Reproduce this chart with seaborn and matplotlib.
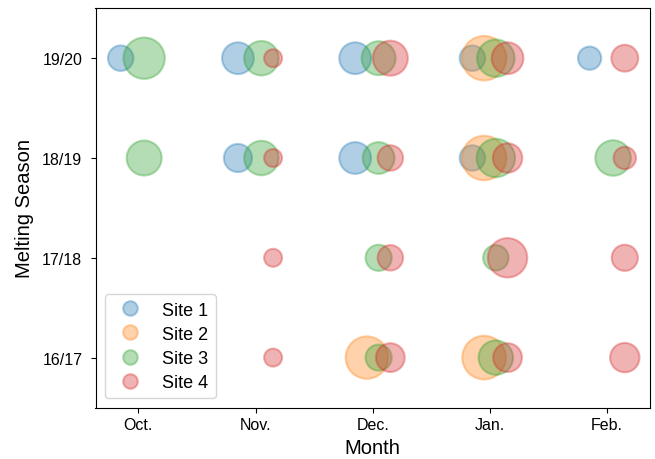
import numpy as np
import pandas as pd
import matplotlib
matplotlib.use("Agg")
import matplotlib.pyplot as plt
from matplotlib.lines import Line2D
import seaborn as sns

# Categories
months = ["Oct.", "Nov.", "Dec.", "Jan.", "Feb."]
seasons = ["16/17", "17/18", "18/19", "19/20"]
sites = ["Site 1", "Site 2", "Site 3", "Site 4"]

nan = np.nan
# Bubble magnitude per site: rows = seasons (16/17 .. 19/20), cols = months (Oct .. Feb)
site1 = [
    [nan, nan, nan, nan, nan],
    [nan, nan, nan, nan, nan],
    [nan, 2.2, 2.8, 1.8, nan],
    [1.8, 2.8, 2.8, 1.8, 1.5],
]
site2 = [
    [nan, nan, 5.0, 5.3, nan],
    [nan, nan, nan, nan, nan],
    [nan, nan, nan, 5.5, nan],
    [nan, nan, nan, 5.5, nan],
]
site3 = [
    [nan, nan, 1.9, 3.3, nan],
    [nan, nan, 1.9, 1.8, nan],
    [3.4, 3.3, 2.8, 4.1, 3.5],
    [4.75, 3.3, 3.2, 3.9, nan],
]
site4 = [
    [nan, 0.9, 2.3, 2.3, 2.4],
    [nan, 0.9, 1.8, 4.3, 1.9],
    [nan, 0.9, 1.8, 2.4, 1.4],
    [nan, 0.9, 3.4, 2.8, 2.0],
]

# Long-form table built from the arrays above
records = []
for s_idx, (site, grid) in enumerate(zip(sites, [site1, site2, site3, site4])):
    for y_idx, row in enumerate(grid):
        for m_idx, val in enumerate(row):
            if not np.isnan(val):
                records.append({"site": site, "site_idx": s_idx, "season_idx": y_idx,
                                "month_idx": m_idx, "value": val})
df = pd.DataFrame(records)

# Side-by-side dodge of the four sites inside each month
dodge = 0.1
df["x"] = df["month_idx"] + (df["site_idx"] - 1.5) * dodge

plt.rcParams["font.family"] = ["Liberation Sans", "DejaVu Sans"]

palette = sns.color_palette("tab10", 4)
fig = plt.figure(figsize=(6.55, 4.6), dpi=100)
ax = fig.add_axes([95.5 / 655, (460 - 408.5) / 460, (650 - 95.5) / 655, (408.5 - 9.3) / 460])

sns.scatterplot(data=df, x="x", y="season_idx", hue="site", hue_order=sites,
                palette=palette, size="value", sizes=(0, 187 * 6), size_norm=(0, 6),
                alpha=0.35, edgecolor="face", linewidth=1.5, legend=False, ax=ax)

ax.set_xticks(range(len(months)))
ax.set_xticklabels(months)
ax.set_yticks(range(len(seasons)))
ax.set_yticklabels(seasons)
ax.set_ylim(-0.5, 3.5)
ax.tick_params(labelsize=11.5)
ax.tick_params(axis="y", pad=6)
ax.set_xlabel("Month", fontsize=14.5)
ax.set_ylabel("Melting Season", fontsize=14.5, labelpad=6)

handles = [Line2D([], [], marker="o", linestyle="", markersize=10.5,
                  markerfacecolor=c, markeredgecolor=c, markeredgewidth=1.5, alpha=0.35)
           for c in palette]
ax.legend(handles, sites, loc="lower left", fontsize=13, labelspacing=0.4)

fig.savefig("out.png", dpi=100)
